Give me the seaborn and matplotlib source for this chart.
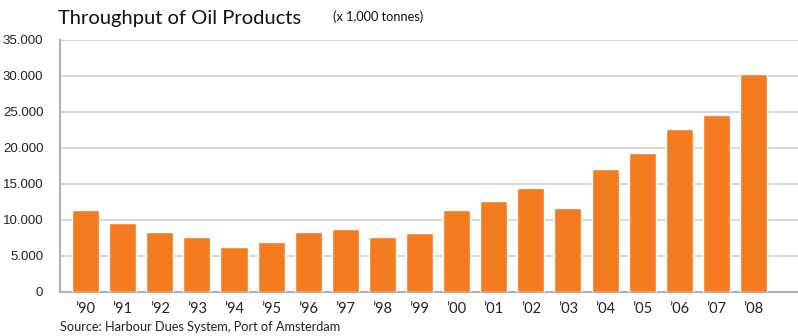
import matplotlib
matplotlib.use("Agg")
import matplotlib.pyplot as plt
import seaborn as sns
import pandas as pd

years = ["\u201990", "\u201991", "\u201992", "\u201993", "\u201994", "\u201995", "\u201996",
         "\u201997", "\u201998", "\u201999", "\u201900", "\u201901", "\u201902", "\u201903",
         "\u201904", "\u201905", "\u201906", "\u201907", "\u201908"]
throughput = [11450, 9550, 8300, 7600, 6200, 6900, 8300, 8700, 7600, 8150,
              11450, 12700, 14500, 11600, 17100, 19350, 22700, 24550, 30250]
y_ticks = [0, 5000, 10000, 15000, 20000, 25000, 30000, 35000]

sns.set_theme(style="white")
plt.rcParams['font.family'] = ['Lato', 'DejaVu Sans']

df = pd.DataFrame({"year": years, "value": throughput})

fig = plt.figure(figsize=(7.98, 3.36), dpi=100)
ax = fig.add_axes([60/798, 1-292/336, 1-60/798, 252/336])

sns.barplot(data=df, x="year", y="value", color="#F47B20", saturation=1,
            width=0.73, ax=ax, zorder=3)

ax.set_ylim(0, 35000)
ax.set_xlim(-0.69, 19.2)
ax.set_yticks(y_ticks)
ax.set_yticklabels([f"{v:,}".replace(",", ".") for v in y_ticks],
                   fontfamily="Liberation Sans", fontsize=9.5, color="#222222")
ax.tick_params(axis="y", length=0, pad=12)
ax.tick_params(axis="x", length=0, pad=7, labelsize=10.5, labelcolor="#222222")
ax.set_xlabel("")
ax.set_ylabel("")

ax.yaxis.grid(True, color="#d9d9d9", linewidth=1.5, zorder=0)
ax.xaxis.grid(False)
ax.set_axisbelow(True)

for s in ["top", "right"]:
    ax.spines[s].set_visible(False)
ax.spines["left"].set_color("#b0b0b0")
ax.spines["left"].set_linewidth(1.5)
ax.spines["bottom"].set_color("#b0b0b0")
ax.spines["bottom"].set_linewidth(1.5)

fig.text(58/798, 1-24/336, "Throughput of Oil Products", fontsize=14.5,
         color="#111111", ha="left", va="baseline")
fig.text(333/798, 1-21/336, "(x 1,000 tonnes)", fontsize=9.2,
         color="#111111", ha="left", va="baseline")
fig.text(60/798, 1-331/336, "Source: Harbour Dues System, Port of Amsterdam",
         fontsize=9.2, color="#222222", ha="left", va="baseline")

fig.savefig("out.png", dpi=100)
